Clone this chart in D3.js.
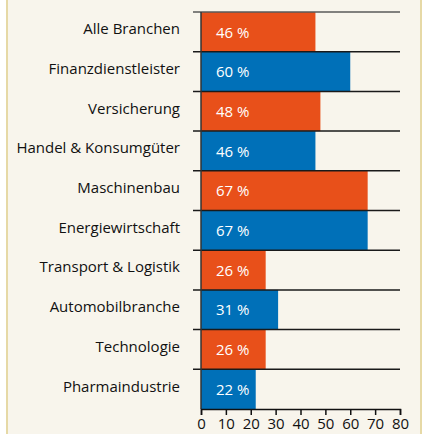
<!DOCTYPE html>
<html>
<head>
<meta charset="utf-8">
<script src="https://cdn.jsdelivr.net/npm/d3@7"></script>
<style>
  body { margin: 0; background: #fff; }
  svg { display: block; }
  text { font-family: "Open Sans", "Noto Sans", sans-serif; }
</style>
</head>
<body>
<div id="viz"></div>
<script>
// Anteil je Branche in Prozent
const branchen = ["Alle Branchen", "Finanzdienstleister", "Versicherung", "Handel & Konsumgüter",
    "Maschinenbau", "Energiewirtschaft", "Transport & Logistik", "Automobilbranche",
    "Technologie", "Pharmaindustrie"];
const werte = [46, 60, 48, 46, 67, 67, 26, 31, 26, 22];
const farben = ["#e8501a", "#0070b8"];
const xTicks = [0, 10, 20, 30, 40, 50, 60, 70, 80];

const dimensions = {
    width: 423,
    height: 434,
    margins: { top: 12, right: 23, bottom: 25, left: 201 }
};
dimensions.boundedWidth = dimensions.width - dimensions.margins.left - dimensions.margins.right;
dimensions.boundedHeight = dimensions.height - dimensions.margins.top - dimensions.margins.bottom;

const viz = d3.select('#viz').append('svg')
    .attr('width', dimensions.width)
    .attr('height', dimensions.height);

// hintergrund mit rahmen
viz.append('rect')
    .attr('x', 7).attr('y', -2)
    .attr('width', 414).attr('height', 440)
    .attr('fill', '#f8f5ec')
    .attr('stroke', '#e6d9a6')
    .attr('stroke-width', 2);

const bounds = viz.append('g')
    .attr('transform', `translate(${dimensions.margins.left}, ${dimensions.margins.top})`);

const xScale = d3.scaleLinear()
    .domain([0, 80])
    .range([0, dimensions.boundedWidth]);

const yScale = d3.scaleBand()
    .domain(branchen)
    .range([0, dimensions.boundedHeight])
    .padding(0);

// balken
bounds.selectAll('rect.bar')
    .data(werte)
    .enter()
    .append('rect')
        .attr('class', 'bar')
        .attr('x', 0)
        .attr('y', (d, i) => yScale(branchen[i]))
        .attr('width', d => xScale(d))
        .attr('height', yScale.bandwidth())
        .attr('fill', (d, i) => farben[i % 2]);

// trennlinien
bounds.selectAll('line.sep')
    .data(branchen)
    .enter()
    .append('line')
        .attr('class', 'sep')
        .attr('x1', -8)
        .attr('x2', xScale(80))
        .attr('y1', d => yScale(d))
        .attr('y2', d => yScale(d))
        .attr('stroke', (d, i) => i === 0 ? '#5a5a5a' : '#1a1a1a')
        .attr('stroke-width', 1.5);

// senkrechte achse
bounds.append('line')
    .attr('x1', 0).attr('x2', 0)
    .attr('y1', 0).attr('y2', dimensions.boundedHeight)
    .attr('stroke', '#333')
    .attr('stroke-width', 1.5);

// wertbeschriftung
bounds.selectAll('text.val')
    .data(werte)
    .enter()
    .append('text')
        .attr('class', 'val')
        .attr('x', 15)
        .attr('y', (d, i) => yScale(branchen[i]) + yScale.bandwidth() / 2)
        .attr('dy', '0.38em')
        .attr('fill', '#fff')
        .style('font-size', '15px')
        .text(d => d + ' %');

// kategorien
bounds.selectAll('text.cat')
    .data(branchen)
    .enter()
    .append('text')
        .attr('class', 'cat')
        .attr('x', -21)
        .attr('y', d => yScale(d) + yScale.bandwidth() / 2 - 3)
        .attr('dy', '0.36em')
        .attr('text-anchor', 'end')
        .attr('fill', '#111')
        .style('font-size', '15px')
        .text(d => d);

// x-achse
const xAxis = bounds.append('g')
    .attr('transform', `translate(0, ${dimensions.boundedHeight})`)
    .call(d3.axisBottom(xScale).tickValues(xTicks).tickSize(6).tickSizeOuter(6).tickPadding(3));

xAxis.select('.domain').attr('stroke', '#111').attr('stroke-width', 1.5);
xAxis.selectAll('.tick line').attr('stroke', '#111').attr('stroke-width', 1.5);
xAxis.selectAll('.tick text')
    .attr('fill', '#111')
    .style('font-family', '"Open Sans", "Noto Sans", sans-serif')
    .style('font-size', '15px');
</script>
</body>
</html>
